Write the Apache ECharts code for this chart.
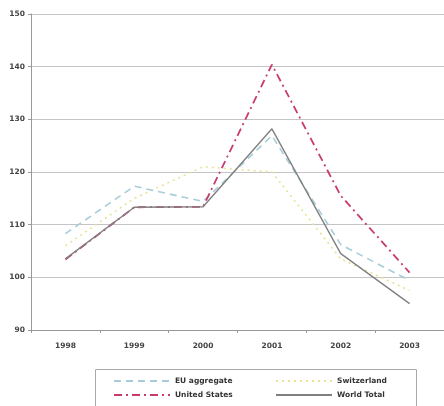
<!DOCTYPE html>
<html>
<head>
<meta charset="utf-8">
<script src="https://cdn.jsdelivr.net/npm/echarts@6/dist/echarts.min.js"></script>
<style>
  html, body { margin: 0; padding: 0; background: #fff; }
  #chart { width: 444px; height: 406px; }
</style>
</head>
<body>
<div id="chart"></div>
<script>
// Index values per year
const years = ['1998', '1999', '2000', '2001', '2002', '2003'];
const euAggregate = [108.3, 117.3, 114.4, 126.9, 106.2, 99.4];
const switzerland = [106.0, 115.0, 121.0, 120.0, 103.5, 97.5];
const unitedStates = [103.4, 113.3, 113.4, 140.4, 115.5, 100.9];
const worldTotal = [103.5, 113.3, 113.4, 128.2, 104.5, 95.0];
const yTicks = { min: 90, max: 150, step: 10 };

const chart = echarts.init(document.getElementById('chart'));
const font = '"DejaVu Sans", sans-serif';

// one legend per entry so the two columns line up
function legendAt(name, left, top) {
  return {
    data: [name], left: left, top: top, orient: 'horizontal',
    itemWidth: 56, itemHeight: 8, itemGap: 4,
    itemStyle: { opacity: 0 },
    textStyle: { fontFamily: font, fontSize: 7.5, fontWeight: 'bold', color: '#333' },
    padding: 0, selectedMode: false
  };
}

chart.setOption({
  animation: false,
  backgroundColor: '#fff',
  grid: { left: 31, top: 14, height: 316, width: 416, containLabel: false },
  xAxis: {
    type: 'category', data: years, boundaryGap: true,
    axisLine: { lineStyle: { color: '#999', width: 1 } },
    axisTick: { show: true, length: 3, lineStyle: { color: '#999' } },
    axisLabel: { fontFamily: font, fontSize: 7.5, fontWeight: 'bold', color: '#444', margin: 12 }
  },
  yAxis: {
    type: 'value', min: yTicks.min, max: yTicks.max, interval: yTicks.step,
    axisLine: { show: true, lineStyle: { color: '#999', width: 1 } },
    axisTick: { show: true, length: 3, lineStyle: { color: '#999' } },
    axisLabel: { fontFamily: font, fontSize: 7.5, fontWeight: 'bold', color: '#444', margin: 6 },
    splitLine: { lineStyle: { color: '#c4c4c4', width: 1 } }
  },
  legend: [
    legendAt('EU aggregate', 113, 377),
    legendAt('Switzerland', 275, 377),
    legendAt('United States', 113, 391),
    legendAt('World Total', 275, 391)
  ],
  graphic: [{
    type: 'rect', silent: true,
    shape: { x: 95.5, y: 369.5, width: 321, height: 44 },
    style: { fill: 'none', stroke: '#aaa', lineWidth: 1 }
  }],
  series: [
    {
      name: 'EU aggregate', type: 'line', data: euAggregate, symbol: 'none',
      lineStyle: { color: '#a6cdd9', width: 1.6, type: [7, 5] },
      itemStyle: { color: '#a6cdd9' }, z: 2
    },
    {
      name: 'Switzerland', type: 'line', data: switzerland, symbol: 'none',
      lineStyle: { color: '#e6e394', width: 1.6, type: [2, 4] },
      itemStyle: { color: '#e6e394' }, z: 1
    },
    {
      name: 'United States', type: 'line', data: unitedStates, symbol: 'none',
      lineStyle: { color: '#c93a6e', width: 1.8, type: [8, 4, 2, 4] },
      itemStyle: { color: '#c93a6e' }, z: 3
    },
    {
      name: 'World Total', type: 'line', data: worldTotal, symbol: 'none',
      lineStyle: { color: '#808080', width: 1.4 },
      itemStyle: { color: '#808080' }, z: 4
    }
  ]
});
</script>
</body>
</html>
